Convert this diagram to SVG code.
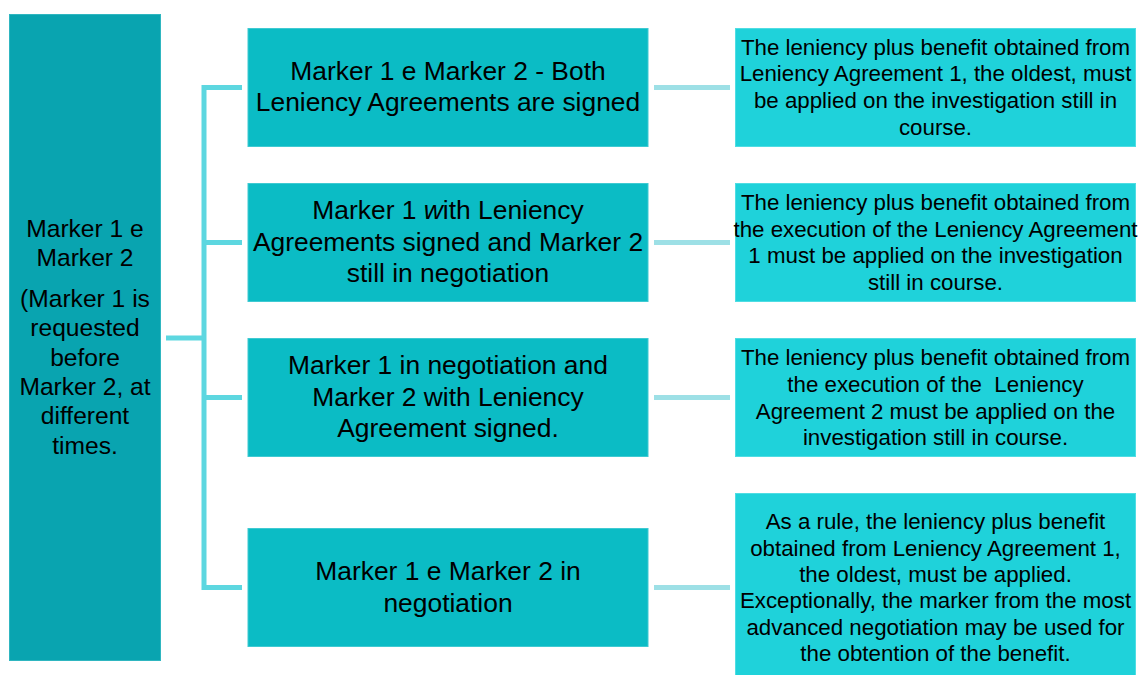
<svg xmlns="http://www.w3.org/2000/svg" width="1139" height="675" viewBox="0 0 1139 675">
<style>
text{font-family:"Liberation Sans",Arial,sans-serif;fill:#000;text-anchor:middle}
.l{fill:#09a4b0;stroke:#2fb6c0;stroke-width:1}
.m{fill:#0bbcc5;stroke:#3fcad2;stroke-width:1}
.r{fill:#1fd2da;stroke:#4fdde3;stroke-width:1}
.lt{font-size:24.6px}
.mt{font-size:26.4px}
.rt{font-size:22.3px}
.c1{stroke:#5dd7e0;stroke-width:5;fill:none}
.c2{stroke:#9de0e6;stroke-width:5;fill:none}
</style>
<rect width="1139" height="675" fill="#fff"/>
<g id="connectors">
<path class="c1" d="M166 338H204M242 87.5H204V587.5H242M204 242.5H242M204 397.5H242"/>
<path class="c2" d="M654 87.5H730M654 242.5H730M654 397.5H730M654 587.5H730"/>
</g>
<g id="root">
<rect class="l" x="9.5" y="14.5" width="151" height="646"/>
<text class="lt"><tspan x="85" y="236.5">Marker 1 e</tspan><tspan x="85" y="265.5">Marker 2</tspan><tspan x="85" y="306.5">(Marker 1 is</tspan><tspan x="85" y="335.5">requested</tspan><tspan x="85" y="365.5">before</tspan><tspan x="85" y="394.5">Marker 2, at</tspan><tspan x="85" y="423.5">different</tspan><tspan x="85" y="453.5">times.</tspan></text>
</g>
<g id="case1">
<rect class="m" x="248" y="28.5" width="400" height="118"/>
<text class="mt"><tspan x="448" y="80">Marker 1 e Marker 2 - Both</tspan><tspan x="448" y="111">Leniency Agreements are signed</tspan></text>
</g>
<g id="case2">
<rect class="m" x="248" y="183.5" width="400" height="118"/>
<text class="mt"><tspan x="448" y="219">Marker 1 <tspan font-style="italic">w</tspan>ith Leniency</tspan><tspan x="448" y="251">Agreements signed and Marker 2</tspan><tspan x="448" y="282">still in negotiation</tspan></text>
</g>
<g id="case3">
<rect class="m" x="248" y="338.5" width="400" height="118"/>
<text class="mt"><tspan x="448" y="374">Marker 1 in negotiation and</tspan><tspan x="448" y="406">Marker 2 with Leniency</tspan><tspan x="448" y="437">Agreement signed.</tspan></text>
</g>
<g id="case4">
<rect class="m" x="248" y="528.5" width="400" height="118"/>
<text class="mt"><tspan x="448" y="580">Marker 1 e Marker 2 in</tspan><tspan x="448" y="612">negotiation</tspan></text>
</g>
<g id="result1">
<rect class="r" x="735.5" y="28.5" width="400" height="118"/>
<text class="rt"><tspan x="935.5" y="55">The leniency plus benefit obtained from</tspan><tspan x="935.5" y="81">Leniency Agreement 1, the oldest, must</tspan><tspan x="935.5" y="108">be applied on the investigation still in</tspan><tspan x="935.5" y="135">course.</tspan></text>
</g>
<g id="result2">
<rect class="r" x="735.5" y="183.5" width="400" height="118"/>
<text class="rt"><tspan x="935.5" y="210">The leniency plus benefit obtained from</tspan><tspan x="935.5" y="237">the execution of the Leniency Agreement</tspan><tspan x="935.5" y="263">1 must be applied on the investigation</tspan><tspan x="935.5" y="290">still in course.</tspan></text>
</g>
<g id="result3">
<rect class="r" x="735.5" y="338.5" width="400" height="118"/>
<text class="rt" xml:space="preserve"><tspan x="935.5" y="365">The leniency plus benefit obtained from</tspan><tspan x="935.5" y="392">the execution of the  Leniency</tspan><tspan x="935.5" y="419">Agreement 2 must be applied on the</tspan><tspan x="935.5" y="445">investigation still in course.</tspan></text>
</g>
<g id="result4">
<rect class="r" x="735.5" y="493.5" width="400" height="185"/>
<text class="rt"><tspan x="935.5" y="529">As a rule, the leniency plus benefit</tspan><tspan x="935.5" y="556">obtained from Leniency Agreement 1,</tspan><tspan x="935.5" y="582">the oldest, must be applied.</tspan><tspan x="935.5" y="608">Exceptionally, the marker from the most</tspan><tspan x="935.5" y="635">advanced negotiation may be used for</tspan><tspan x="935.5" y="661">the obtention of the benefit.</tspan></text>
</g>
</svg>
